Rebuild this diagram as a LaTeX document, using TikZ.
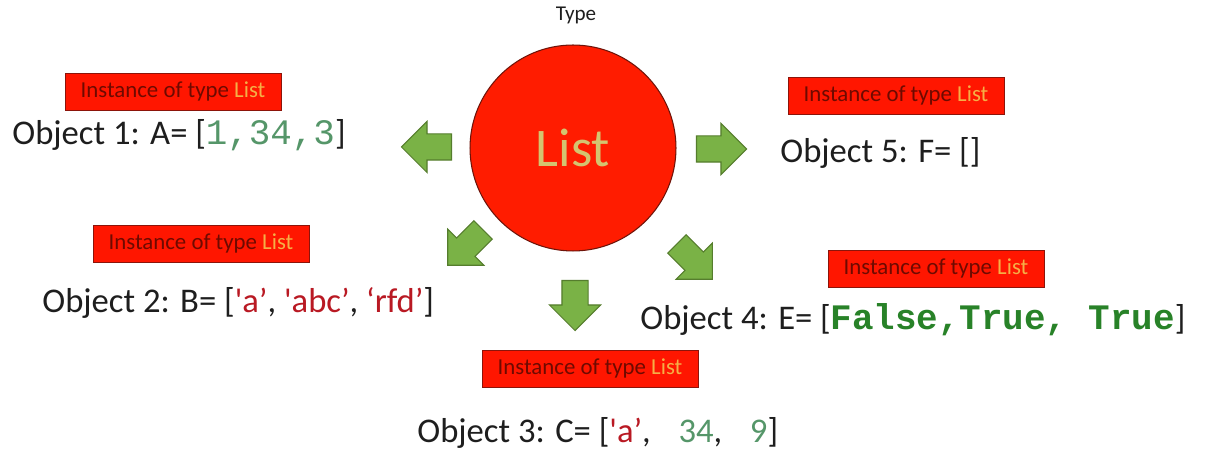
\documentclass[tikz,border=0pt]{standalone}
\usepackage{fontspec}
\setmainfont{Carlito}
\setmonofont{Liberation Mono}
\usetikzlibrary{positioning, shapes.arrows}

\definecolor{boxred}{RGB}{255,22,0}
\definecolor{boxline}{RGB}{140,20,10}
\definecolor{boxtext}{RGB}{110,10,0}
\definecolor{listorange}{RGB}{245,175,70}
\definecolor{circred}{RGB}{255,28,0}
\definecolor{circline}{RGB}{110,20,10}
\definecolor{listtext}{RGB}{212,196,112}
\definecolor{arrowgreen}{RGB}{122,178,70}
\definecolor{arrowline}{RGB}{85,125,45}
\definecolor{strred}{RGB}{185,25,35}
\definecolor{numgreen}{RGB}{85,150,105}
\definecolor{boolgreen}{RGB}{40,130,40}
\definecolor{objtext}{RGB}{30,30,30}

\newcommand{\sq}{\textquotesingle}
\newcommand{\str}[1]{\textcolor{strred}{#1}}
\newcommand{\monosize}{\fontsize{20.4}{22}\selectfont}
\newcommand{\num}[1]{\textcolor{numgreen}{\monosize\ttfamily #1}}
\newcommand{\bool}[1]{\textcolor{boolgreen}{\monosize\ttfamily\bfseries #1}}
\newcommand{\inst}{Instance of type \textcolor{listorange}{List}}

\tikzset{
  instbox/.style={draw=boxline, fill=boxred, line width=0.5pt,
    minimum width=4.32cm, minimum height=0.74cm, inner sep=0pt,
    text=boxtext, font=\fontsize{13}{15}\selectfont},
  objline/.style={anchor=base west, inner sep=0pt, text=objtext,
    font=\fontsize{19.7}{22}\selectfont},
  bigarrow/.style={single arrow, draw=arrowline, fill=arrowgreen,
    line width=0.6pt, inner xsep=0pt, inner ysep=0.25cm,
    minimum height=1cm, single arrow head extend=0.25cm}
}

\begin{document}
\begin{tikzpicture}[x=0.02cm, y=-0.02cm]
  \useasboundingbox[fill=white] (0,0) rectangle (1210,472);

  % the type
  \node[circle, fill=circred, draw=circline, line width=0.6pt,
    minimum size=4.12cm, text=listtext,
    font=\fontsize{31}{34}\selectfont] (list) at (573,148) {List};
  \node[font=\fontsize{12}{14}\selectfont, text=objtext] (type) at (576,15) {Type};

  % arrows round the circle
  \node[bigarrow, rotate=180] (arrowA) at (433,147) {};
  \node[bigarrow]             (arrowF) at (715,149) {};
  \node[bigarrow, rotate=225] (arrowB) at (470,243) {};
  \node[bigarrow, rotate=270] (arrowC) at (575,299) {};
  \node[bigarrow, rotate=315] (arrowE) at (690,257) {};

  % instances
  \node[instbox] (instA) at (173,91.5)  {\inst};
  \node[instbox] (instB) at (201,243.5) {\inst};
  \node[instbox] (instC) at (590,368.5) {\inst};
  \node[instbox] (instE) at (936,268.5) {\inst};
  \node[instbox] (instF) at (896,95.5)  {\inst};

  \node[objline] (objA) at (12,145)  {Object 1: A= [\num{1,34,3}]};
  \node[objline] (objB) at (42,313)  {Object 2: B= [\str{\sq a’}, \str{\sq abc’}, \str{‘rfd’}]};
  \node[objline] (objC) at (417,443) {Object 3: C= [\str{\sq a’},\hspace{0.8em}\textcolor{numgreen}{34},\hspace{0.8em}\textcolor{numgreen}{9}]};
  \node[objline] (objE) at (640,330) {Object 4: E= [\bool{False,True, True}]};
  \node[objline] (objF) at (780,163) {Object 5: F= []};
\end{tikzpicture}
\end{document}
